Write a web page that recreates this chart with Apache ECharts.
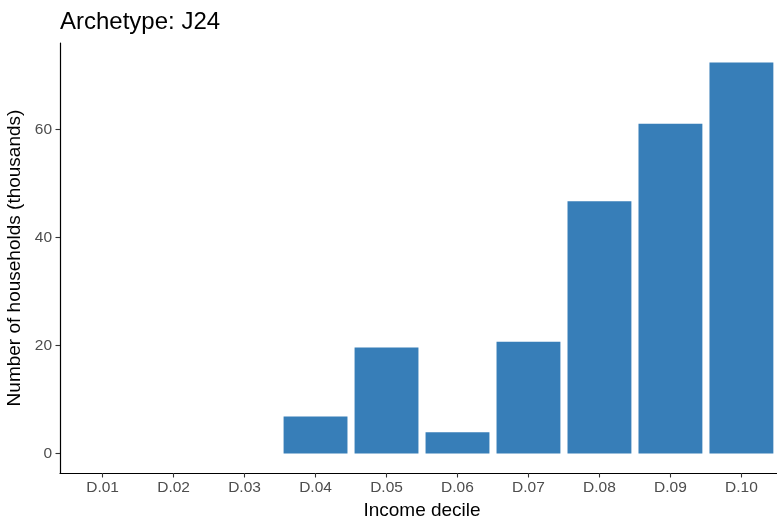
<!DOCTYPE html>
<html>
<head>
<meta charset="utf-8">
<script src="https://cdn.jsdelivr.net/npm/echarts@6/dist/echarts.min.js"></script>
<style>
html,body{margin:0;padding:0;background:#fff;}
#chart{width:777px;height:525px;}
</style>
</head>
<body>
<div id="chart"></div>
<script>
const titleText = "Archetype: J24";
const categories = ["D.01","D.02","D.03","D.04","D.05","D.06","D.07","D.08","D.09","D.10"];
const households = [0, 0, 0, 6.85, 19.65, 3.95, 20.7, 46.75, 61.1, 72.45];
const yTicks = [0, 20, 40, 60];
const xLabel = "Income decile";
const yLabel = "Number of households (thousands)";

const positions = categories.map((c, i) => i + 1);
const yMax = Math.max(...households);
const pad = yMax * 0.05;

const chart = echarts.init(document.getElementById('chart'), null, {renderer: 'canvas'});
const font = 'Liberation Sans, Arial, sans-serif';
chart.setOption({
  animation: false,
  backgroundColor: '#ffffff',
  title: {
    text: titleText,
    left: 55,
    top: 5,
    textStyle: {fontFamily: font, fontSize: 24, fontWeight: 'normal', color: '#000'}
  },
  grid: {left: 60, right: -7, top: 43, bottom: 52, containLabel: false, outerBoundsMode: 'none'},
  xAxis: {
    type: 'value',
    min: 0.4,
    max: categories.length + 0.6,
    name: xLabel,
    nameLocation: 'middle',
    nameGap: 27,
    nameTextStyle: {fontFamily: font, fontSize: 19, color: '#000'},
    axisLine: {show: true, onZero: false, lineStyle: {color: '#000', width: 1.2}},
    axisTick: {show: true, length: 4.5, lineStyle: {color: '#333', width: 1.1}, customValues: positions},
    axisLabel: {
      show: true,
      customValues: positions,
      margin: 7,
      fontFamily: font, fontSize: 15.5, color: '#4D4D4D',
      formatter: v => categories[Math.round(v) - 1] || ''
    },
    splitLine: {show: false}
  },
  yAxis: {
    type: 'value',
    min: -pad,
    max: yMax + pad,
    name: yLabel,
    nameLocation: 'middle',
    nameGap: 33,
    nameTextStyle: {fontFamily: font, fontSize: 19, color: '#000'},
    axisLine: {show: true, onZero: false, lineStyle: {color: '#000', width: 1.2}},
    axisTick: {show: true, length: 4.5, lineStyle: {color: '#333', width: 1.1}, customValues: yTicks},
    axisLabel: {
      show: true,
      customValues: yTicks,
      margin: 8,
      fontFamily: font, fontSize: 15.5, color: '#4D4D4D'
    },
    splitLine: {show: false}
  },
  series: [{
    type: 'bar',
    data: positions.map((p, i) => [p, households[i]]),
    barWidth: '90%',
    itemStyle: {color: '#377EB8'}
  }]
});
</script>
</body>
</html>
